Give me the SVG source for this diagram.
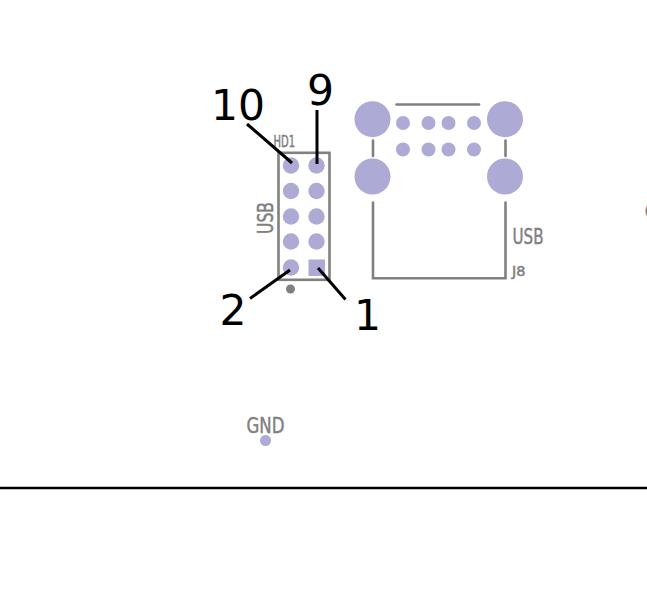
<svg xmlns="http://www.w3.org/2000/svg" width="647" height="599" viewBox="0 0 647 599">
<style>
.pad{fill:#aeaad6}
.silk{fill:none;stroke:#808080;stroke-width:2.6;stroke-linecap:round;stroke-linejoin:miter}
.lead{stroke:#000;stroke-width:3;stroke-linecap:butt;fill:none}
.num{font-family:"DejaVu Sans",sans-serif;font-size:42.500px;fill:#000}
.sl{font-family:"DejaVu Sans",sans-serif;fill:#808080;stroke:#808080;stroke-width:.5}
</style>
<rect width="647" height="599" fill="#fff"/>
<g id="HD1">
<rect class="silk" x="278.500" y="152.800" width="51" height="127"/>
<g class="pad">
<circle cx="291" cy="165.500" r="8.200"/><circle cx="316.500" cy="165.500" r="8.200"/>
<circle cx="291" cy="191" r="8.200"/><circle cx="316.500" cy="191" r="8.200"/>
<circle cx="291" cy="216.500" r="8.200"/><circle cx="316.500" cy="216.500" r="8.200"/>
<circle cx="291" cy="241.500" r="8.200"/><circle cx="316.500" cy="241.500" r="8.200"/>
<circle cx="291" cy="267.500" r="8.200"/><rect x="308.500" y="259.500" width="16.500" height="16.500"/>
</g>
<circle cx="290.500" cy="289" r="4.500" fill="#808080"/>
<text class="sl" font-size="15" textLength="21.500" lengthAdjust="spacingAndGlyphs" x="273.500" y="147">HD1</text>
<text class="sl" font-size="21" textLength="32" lengthAdjust="spacingAndGlyphs" transform="translate(272.500 234) rotate(-90)">USB</text>
</g>
<g id="J8">
<path class="silk" d="M396.500 104.500H479"/>
<path class="silk" d="M373 140.500V156M505.500 140.500V156"/>
<path class="silk" d="M373 202.500V278.300H505.500V202.500"/>
<g class="pad">
<circle cx="372.500" cy="119.200" r="18"/><circle cx="505" cy="119.200" r="18"/>
<circle cx="372.500" cy="176.500" r="18"/><circle cx="505" cy="176.500" r="18"/>
<circle cx="403" cy="123" r="7"/><circle cx="428.500" cy="123" r="7"/><circle cx="448.500" cy="123" r="7"/><circle cx="474" cy="123" r="7"/>
<circle cx="403" cy="149.500" r="7"/><circle cx="428.500" cy="149.500" r="7"/><circle cx="448.500" cy="149.500" r="7"/><circle cx="474" cy="149.500" r="7"/>
</g>
<text class="sl" font-size="22" textLength="31" lengthAdjust="spacingAndGlyphs" x="512.500" y="244">USB</text>
<text class="sl" font-size="14" textLength="13.500" lengthAdjust="spacingAndGlyphs" x="512" y="276">J8</text>
</g>
<g id="GND">
<text class="sl" font-size="22" textLength="38" lengthAdjust="spacingAndGlyphs" x="246.500" y="433">GND</text>
<circle class="pad" cx="265.500" cy="440.500" r="5.500"/>
</g>
<text class="sl" font-size="22" x="644.500" y="219">C</text>
<g id="connectors">
<path class="lead" d="M247 124L292 163"/>
<path class="lead" d="M317 110V164"/>
<path class="lead" d="M250 298.500L290 270"/>
<path class="lead" d="M345.500 299.500L318 268"/>
</g>
<g id="labels">
<text class="num" x="211" y="119.500">10</text>
<text class="num" x="307" y="105">9</text>
<text class="num" x="219.500" y="325">2</text>
<text class="num" x="354" y="330">1</text>
</g>
<path d="M0 488H647" stroke="#000" stroke-width="2.500" fill="none"/>
</svg>
